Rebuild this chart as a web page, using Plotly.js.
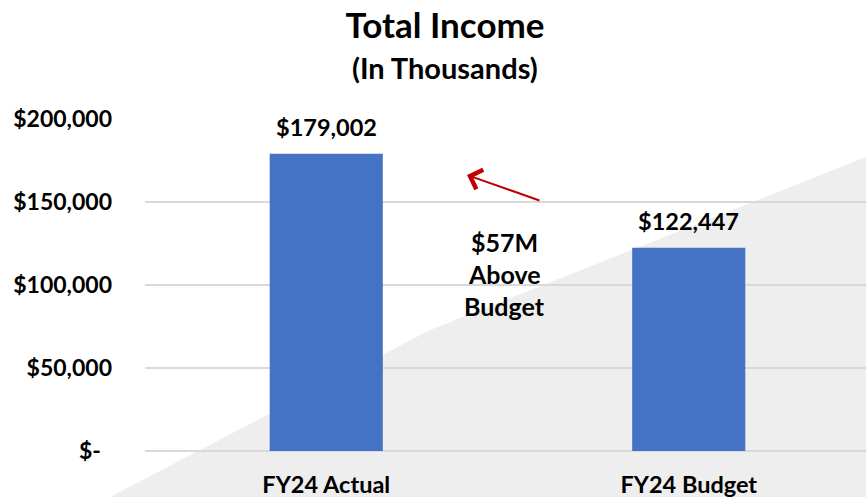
<!DOCTYPE html>
<html>
<head>
<meta charset="utf-8">
<script src="https://cdn.plot.ly/plotly-3.0.1.min.js"></script>
<style>html,body{margin:0;padding:0;background:#fff;}#chart{width:866px;height:497px;}</style>
</head>
<body>
<div id="chart"></div>
<script>
var categories = ['FY24 Actual', 'FY24 Budget'];
var values = [179002, 122447];
var yTickVals = [0, 50000, 100000, 150000, 200000];
var yTickText = ['$-\u00a0\u00a0', '$50,000', '$100,000', '$150,000', '$200,000'];
var titleText = 'Total Income';
var subtitleText = '(In Thousands)';
var noteLines = ['$57M', 'Above', 'Budget'];

var FONT = 'Lato, "Open Sans", sans-serif';
function fmt(v){ return '$' + v.toLocaleString('en-US'); }

var trace = {
  type: 'bar',
  x: categories,
  y: values,
  marker: {color: '#4472C4'},
  hoverinfo: 'none'
};

var annotations = values.map(function(v, i){
  return {
    x: categories[i], y: v, xref: 'x', yref: 'y',
    text: fmt(v), showarrow: false, yanchor: 'bottom', yshift: 11,
    font: {family: FONT, size: 23.5, color: '#000', weight: 700}
  };
});

annotations.push({
  xref: 'paper', yref: 'paper', x: 0.416, y: 1.1566,
  text: subtitleText, showarrow: false, xanchor: 'center', yanchor: 'middle',
  font: {family: FONT, size: 29, color: '#000', weight: 700}
});

var noteY = [242, 274, 306];
noteLines.forEach(function(t, i){
  annotations.push({
    xref: 'paper', yref: 'paper', x: (504 - 145) / 721, y: (451 - noteY[i]) / 332,
    text: t, showarrow: false, xanchor: 'center', yanchor: 'middle',
    font: {family: FONT, size: 25, color: '#000', weight: 700}
  });
});

// red arrow
annotations.push({
  xref: 'paper', yref: 'paper', x: (467 - 145) / 721, y: (451 - 175) / 332,
  ax: 74, ay: 26, text: '', showarrow: true,
  arrowhead: 4, arrowsize: 2, arrowwidth: 2, arrowcolor: '#C00000'
});

var layout = {
  width: 866, height: 497,
  margin: {l: 145, r: 0, t: 119, b: 46, pad: 0},
  paper_bgcolor: '#ffffff',
  plot_bgcolor: 'rgba(0,0,0,0)',
  showlegend: false,
  bargap: 0.688,
  title: {
    text: titleText, xref: 'container', yref: 'container',
    x: 445 / 866, xanchor: 'center', y: 1 - 26 / 497, yanchor: 'middle',
    font: {family: FONT, size: 35, color: '#000', weight: 700}
  },
  xaxis: {
    range: [-0.5, 1.489], showgrid: false, zeroline: false, showline: false,
    ticks: '', ticklabelstandoff: 17,
    tickfont: {family: FONT, size: 23.5, color: '#000', weight: 700},
    fixedrange: true
  },
  yaxis: {
    range: [0, 200000], tickvals: yTickVals, ticktext: yTickText,
    showgrid: true, gridcolor: '#d9d9d9', gridwidth: 1.5,
    zeroline: true, zerolinecolor: '#d9d9d9', zerolinewidth: 1.5,
    showline: false, ticks: '', ticklabelstandoff: 32,
    tickfont: {family: FONT, size: 23, color: '#000', weight: 700},
    fixedrange: true
  },
  shapes: [{
    type: 'path', xref: 'paper', yref: 'paper', layer: 'below',
    path: 'M ' + ((110-145)/721) + ' ' + ((451-497)/332) +
          ' L ' + ((430-145)/721) + ' ' + ((451-330)/332) +
          ' L ' + ((866-145)/721) + ' ' + ((451-157)/332) +
          ' L ' + ((870-145)/721) + ' ' + ((451-500)/332) + ' Z',
    fillcolor: '#eeeeee', line: {width: 0}
  }],
  annotations: annotations
};

Plotly.newPlot('chart', [trace], layout, {displayModeBar: false, staticPlot: true});
</script>
</body>
</html>
